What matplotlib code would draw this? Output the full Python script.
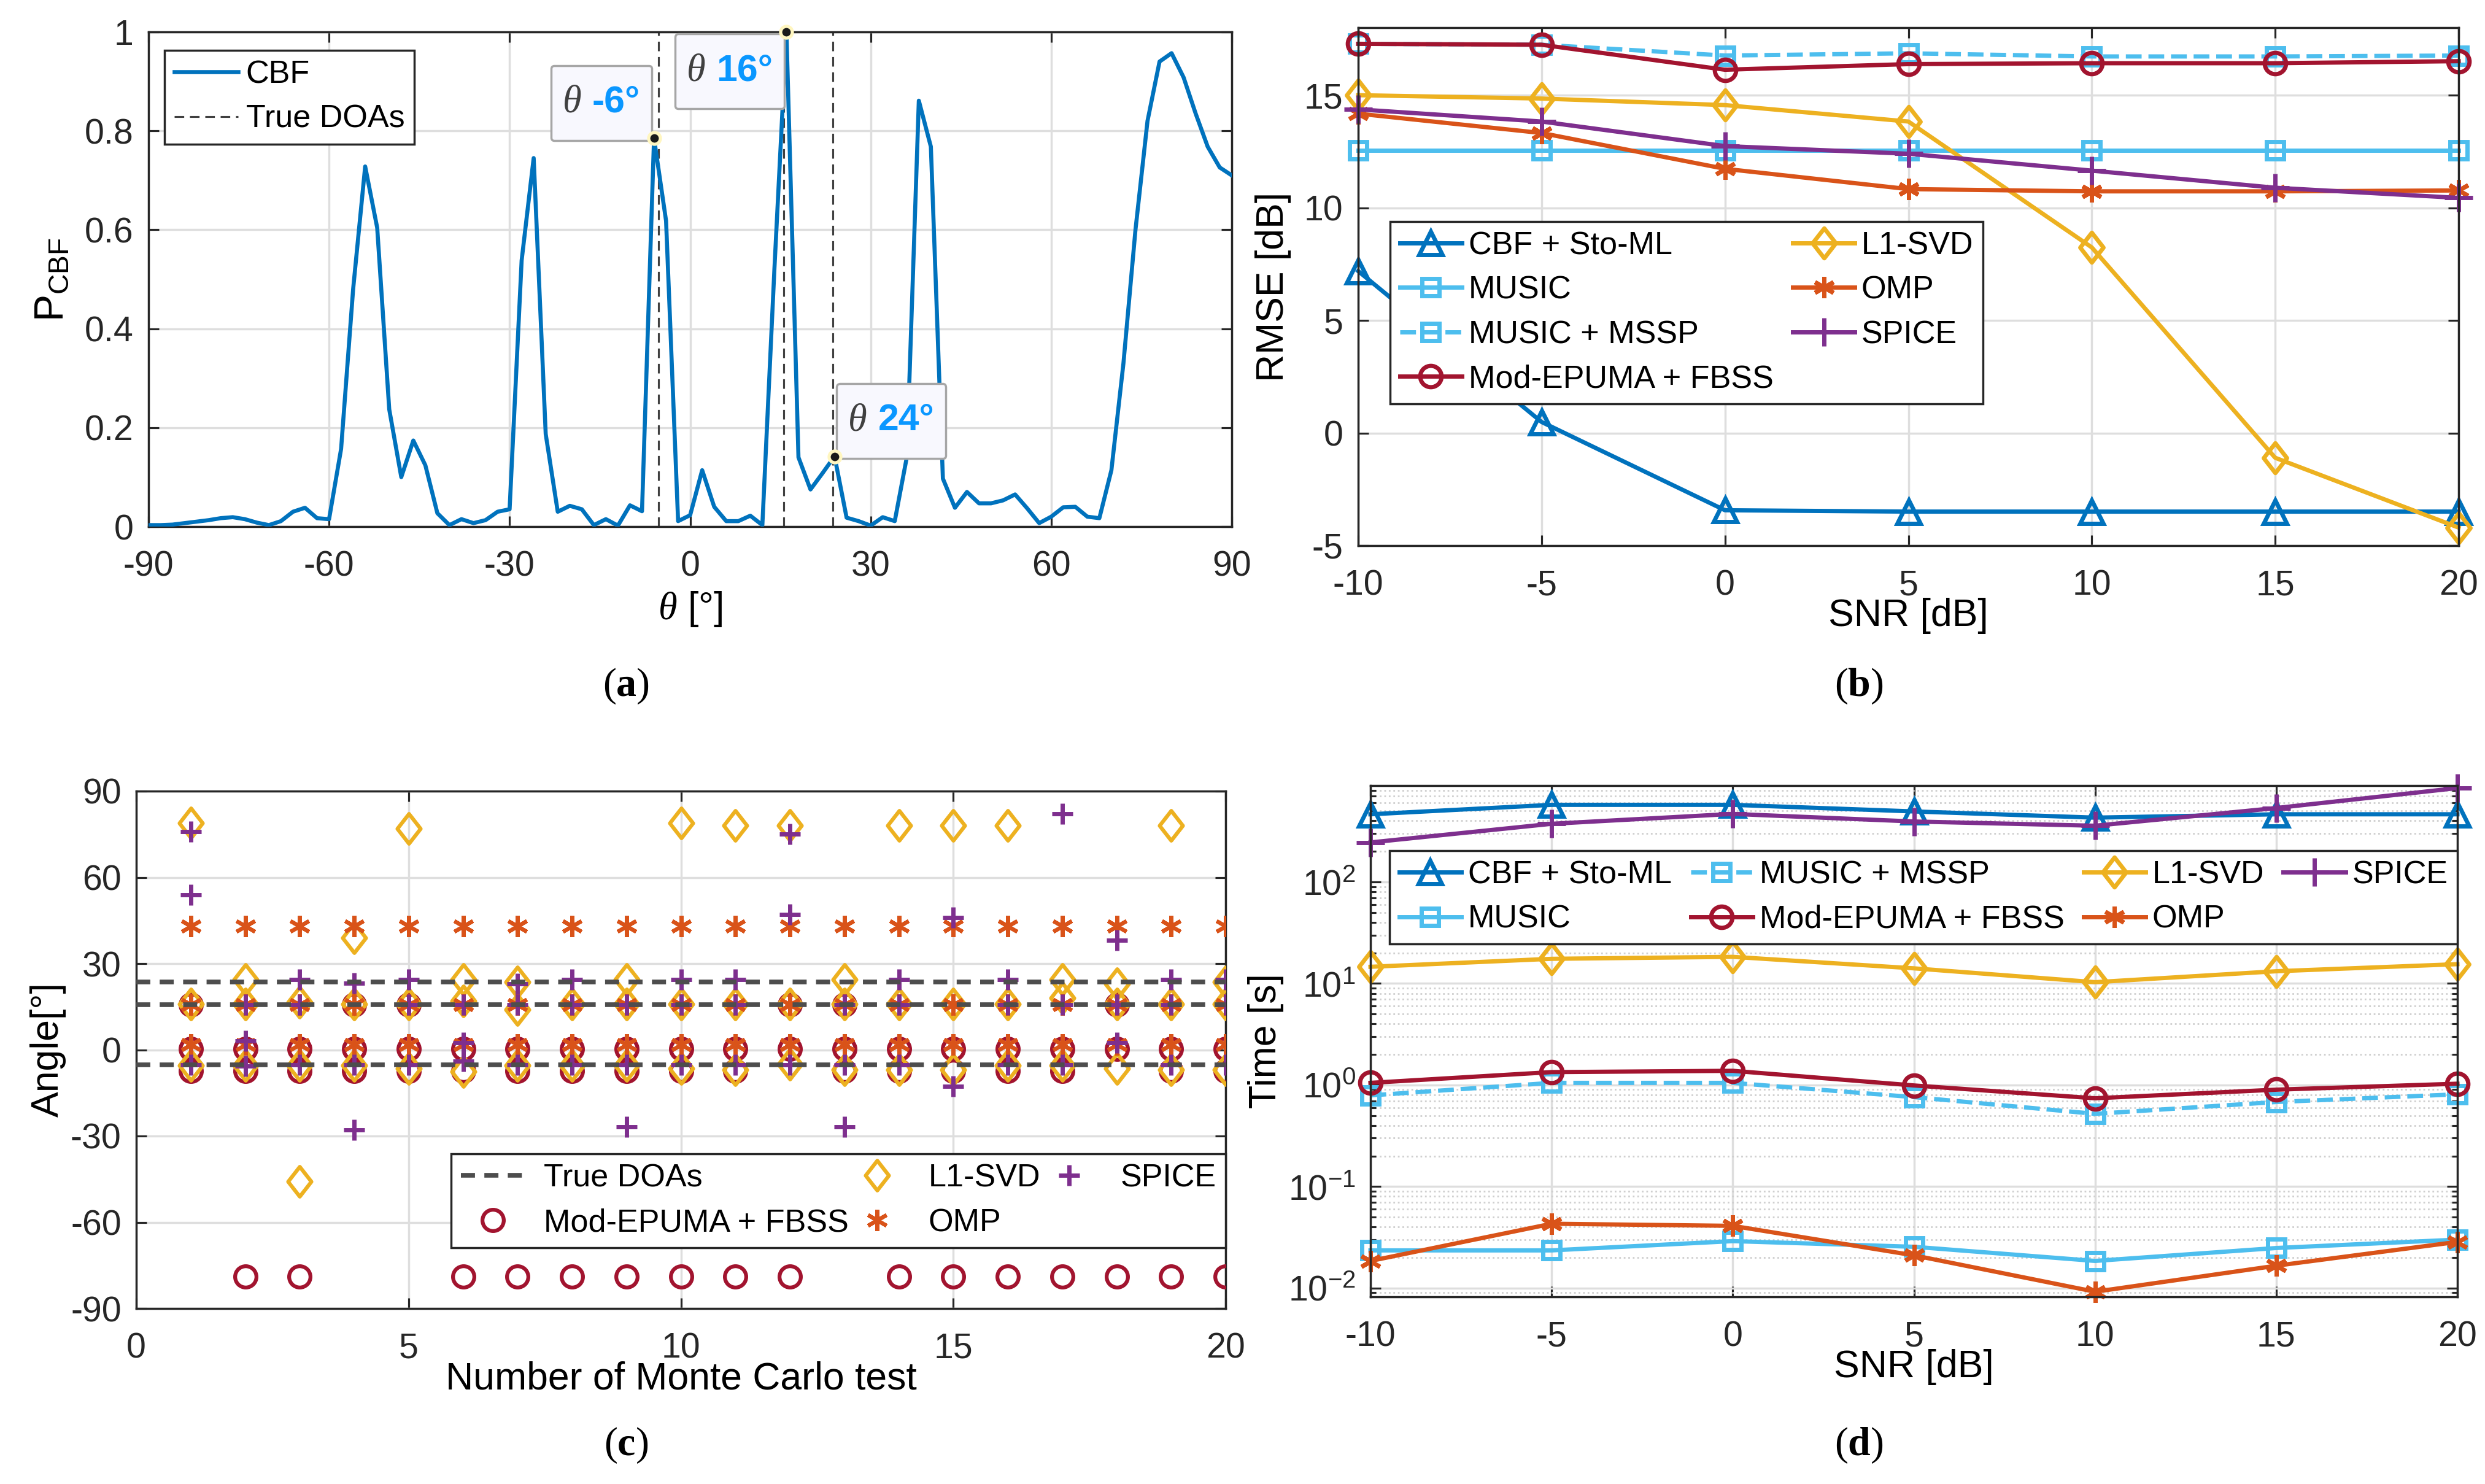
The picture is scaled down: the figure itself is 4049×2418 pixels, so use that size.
import numpy as np
import matplotlib
matplotlib.use('Agg')
import matplotlib.pyplot as plt
from matplotlib.path import Path
from matplotlib.offsetbox import TextArea, HPacker, AnnotationBbox, DrawingArea
from matplotlib.ticker import NullLocator, LogLocator, FixedLocator

plt.rcParams['font.family'] = ['Liberation Sans', 'DejaVu Sans']
plt.rcParams['mathtext.fontset'] = 'custom'
plt.rcParams['mathtext.rm'] = 'Liberation Sans'
plt.rcParams['mathtext.it'] = 'Liberation Serif:italic'
plt.rcParams['mathtext.bf'] = 'Liberation Serif:bold'
plt.rcParams['axes.unicode_minus'] = False

# ---- data -------------------------------------------------------------
# (a) CBF spectrum, -90:2:90 deg
theta = np.arange(-90, 91, 2)
p_cbf = [0.003, 0.003, 0.004, 0.007, 0.010, 0.013, 0.017, 0.019, 0.015, 0.008,
         0.003, 0.011, 0.030, 0.038, 0.017, 0.015, 0.157, 0.48, 0.728, 0.604,
         0.237, 0.100, 0.174, 0.124, 0.027, 0.003, 0.015, 0.007, 0.013, 0.030,
         0.035, 0.538, 0.745, 0.187, 0.030, 0.042, 0.035, 0.003, 0.015, 0.002,
         0.043, 0.031, 0.785, 0.618, 0.011, 0.023, 0.114, 0.040, 0.011, 0.011,
         0.022, 0.003, 0.52, 1.0, 0.140, 0.075, 0.108, 0.142, 0.018, 0.011,
         0.002, 0.019, 0.011, 0.14, 0.861, 0.768, 0.097, 0.038, 0.070, 0.047,
         0.047, 0.053, 0.065, 0.037, 0.007, 0.020, 0.039, 0.040, 0.020, 0.017,
         0.114, 0.33, 0.60, 0.82, 0.94, 0.957, 0.908, 0.835, 0.768, 0.726, 0.71]
true_doas = [-5.3, 15.6, 23.7]
tip_theta = [-6, 16, 24]
tip_p = [0.785, 1.0, 0.142]
tip_text = ['-6°', '16°', '24°']

# (b) RMSE vs SNR
snr = [-10, -5, 0, 5, 10, 15, 20]
rmse_cbf = [7.19, 0.49, -3.43, -3.49, -3.49, -3.49, -3.49]
rmse_music = [12.55, 12.55, 12.55, 12.55, 12.55, 12.55, 12.55]
rmse_mssp = [17.28, 17.24, 16.76, 16.86, 16.72, 16.72, 16.76]
rmse_epuma = [17.28, 17.24, 16.13, 16.38, 16.42, 16.42, 16.51]
rmse_l1 = [15.0, 14.85, 14.56, 13.83, 8.24, -1.1, -4.2]
rmse_omp = [14.18, 13.32, 11.73, 10.83, 10.73, 10.73, 10.77]
rmse_spice = [14.37, 13.83, 12.74, 12.4, 11.65, 10.89, 10.44]

# (c) estimates per Monte Carlo test (tests 1..20)
epuma_est = [[15.7, 0.3, -7.3], [0.3, -7.3, -78.8], [0.3, -7.3, -78.8], [15.7, 0.3, -7.3],
             [15.7, 0.3, -7.3], [0.3, -7.3, -78.8], [0.3, -7.3, -78.8], [0.3, -7.3, -78.8],
             [0.3, -7.3, -78.8], [0.3, -7.3, -78.8], [0.3, -7.3, -78.8], [15.7, 0.3, -78.8],
             [15.7, 0.3, -7.3], [0.3, -7.3, -78.8], [0.3, -7.3, -78.8], [0.3, -7.3, -78.8],
             [0.3, -7.3, -78.8], [15.7, 0.3, -78.8], [0.3, -7.3, -78.8], [0.3, -7.3, -78.8]]
l1_est = [[79, 16, -5.5], [24.5, 16, -5.5], [16.5, -5.5, -45.7], [39, 16, -5.5],
          [77, 16, -6.5], [24.5, 17, -7.5], [23.5, 14, -5.5], [16, -5.5],
          [24.5, 16, -5.5], [79, 16, -6.5], [78, 16, -7], [78, 16, -5],
          [24.5, 16, -7], [78, 16, -7], [78, 16, -7], [78, 16, -5.5],
          [24.5, 18, -5.5], [23, 16, -6.5], [78, 16, -7], [23.5, 16, -7]]
omp_est = [[43.1, 15.8, 1.9], [43.1, 15.8, 1.9], [43.1, 15.8, 1.9], [43.1, 15.8, 1.9],
           [43.1, 15.8, 1.9], [43.1, 15.8, 1.9], [43.1, 15.8, 1.9], [43.1, 15.8, 1.9],
           [43.1, 15.8, 1.9], [43.1, 15.8, 1.9], [43.1, 15.8, 1.9], [43.1, 15.8, 1.9],
           [43.1, 15.8, 1.9], [43.1, 15.8, 1.9], [43.1, 15.8, 1.9], [43.1, 15.8, 1.9],
           [43.1, 15.8, 1.9], [43.1, 15.8, 1.9], [43.1, 15.8, 1.9], [43.1, 15.8, 1.9]]
spice_est = [[76, 54, -5.2], [15.7, 3, -5.7], [24.4, 15.7, -5.2], [23.2, -5.2, -27.8],
             [24.4, 15.7, -5.2], [15.7, 2.5, -4], [23, 15.7, -5.2], [24.4, 15.7, -5.2],
             [15.7, -5.2, -26.8], [24.4, 15.7, -5.2], [24.4, 15.7, -5.2], [75, 47, -5.2],
             [15.7, -5.2, -26.8], [24.4, 15.7, -5.2], [46, -12.8], [24.4, 15.7, -5.2],
             [82, 15.7, -5.2], [38.2, 15.7, 2.5], [24.4, 15.7, -5.2], [24.4, 15.7, -5.2]]

# (d) run time vs SNR
t_cbf = [464, 575, 575, 495, 430, 464, 464]
t_music = [0.0235, 0.0235, 0.029, 0.0255, 0.0185, 0.0248, 0.030]
t_mssp = [0.79, 1.05, 1.05, 0.76, 0.52, 0.68, 0.81]
t_epuma = [1.05, 1.34, 1.38, 0.99, 0.74, 0.90, 1.03]
t_l1 = [14.6, 17.5, 18.3, 14.1, 10.3, 13.2, 15.5]
t_omp = [0.0185, 0.043, 0.041, 0.021, 0.0092, 0.0166, 0.0285]
t_spice = [245, 374, 468, 394, 358, 535, 841]

# ---- style -----------------------------------------------------------
C_BLUE = '#0072BD'
C_CYAN = '#4DBEEE'
C_RED = '#A2142F'
C_YEL = '#EDB120'
C_ORG = '#D95319'
C_PUR = '#7E2F8E'
DIAMOND = Path([(0, 1), (0.78, 0), (0, -1), (-0.78, 0), (0, 0)],
               [Path.MOVETO, Path.LINETO, Path.LINETO, Path.LINETO, Path.CLOSEPOLY])
ASTER = (6, 2, 0)
TICK_FS = 16.5
LABEL_FS = 18
LEG_FS = 15
LEG_KW = dict(fontsize=LEG_FS, fancybox=False, framealpha=1, borderpad=0.3,
              labelspacing=0.45, borderaxespad=0)

W, H = 4049, 2418
fig = plt.figure(figsize=(W / 250, H / 250), dpi=250)


def axes_px(l, t, r, b):
    return fig.add_axes([l / W, 1 - b / H, (r - l) / W, (b - t) / H])


def matlab_style(ax):
    ax.tick_params(which='both', direction='in', top=True, right=True,
                   colors='#262626', labelsize=TICK_FS, length=5, width=0.9)
    ax.tick_params(which='minor', length=2.5)
    ax.tick_params(axis='x', pad=11)
    ax.tick_params(axis='y', pad=7)
    ax.grid(True, color='#dedede', linewidth=1.0)
    ax.set_axisbelow(True)
    for s in ax.spines.values():
        s.set_color('#262626')
        s.set_linewidth(1.0)


def legend_style(leg):
    leg.get_frame().set_edgecolor('#262626')
    leg.get_frame().set_linewidth(1.0)


def flatten(est):
    xs, ys = [], []
    for i, row in enumerate(est, start=1):
        for v in row:
            xs.append(i)
            ys.append(v)
    return xs, ys


# ---- (a) ---------------------------------------------------------------
ax = axes_px(242, 52, 2007, 858)
matlab_style(ax)
ax.plot(theta, p_cbf, color=C_BLUE, lw=1.9, label='CBF', zorder=3)
ax.vlines(true_doas, 0, 1, colors='#404040', linestyles=(0, (5, 3)), lw=0.9,
          label='True DOAs', zorder=2)
ax.plot(tip_theta, tip_p, 'o', ms=5.5, mfc='#1a1a1a', mec='#fff6c0', mew=1.5,
        zorder=8, clip_on=False)
tip_align = [(1, 0), (1, 1), (0, 0)]
tip_offset = [(-1, -1), (-1, -1), (1, -1)]
for x, y, s, al, off in zip(tip_theta, tip_p, tip_text, tip_align, tip_offset):
    th = TextArea('θ', textprops=dict(family='Liberation Serif', style='italic',
                                      size=18, color='#404040'))
    val = TextArea(s, textprops=dict(size=17.5, weight='bold', color='#0a97ff'))
    inner = HPacker(children=[th, val], align='baseline', pad=0, sep=5)
    strut = DrawingArea(0, 24)
    box = HPacker(children=[strut, inner], align='center', pad=5.5, sep=0)
    ab = AnnotationBbox(box, (x, y), xybox=off, xycoords='data',
                        boxcoords='offset points', box_alignment=al, pad=0,
                        fontsize=10,
                        bboxprops=dict(boxstyle='round,pad=0,rounding_size=0.15',
                                       fc='#f8f8fe', ec='#a6a6a6', lw=1.0))
    ab.set_zorder(7)
    ax.add_artist(ab)
ax.set_xlim(-90, 90)
ax.set_ylim(0, 1)
ax.set_xticks(np.arange(-90, 91, 30))
ax.set_yticks([0, 0.2, 0.4, 0.6, 0.8, 1])
ax.set_yticklabels(['0', '0.2', '0.4', '0.6', '0.8', '1'])
ax.set_xlabel(r'$\theta$ [°]', fontsize=LABEL_FS, labelpad=3)
ax.set_ylabel(r'P$_{\mathrm{CBF}}$', fontsize=LABEL_FS + 1, labelpad=6)
leg = ax.legend(loc='upper left', bbox_to_anchor=(0.0147, 0.963),
                handlelength=2.0, handletextpad=0.25, **LEG_KW)
legend_style(leg)

# ---- (b) ---------------------------------------------------------------
ax = axes_px(2213, 45, 4006, 889)
matlab_style(ax)
lw = 2.0
kw = dict(lw=lw, mew=2.0, mfc='none', clip_on=False)
ax.plot(snr, rmse_cbf, '-', marker='^', ms=11, color=C_BLUE, label='CBF + Sto-ML', **kw)
ax.plot(snr, rmse_music, '-', marker='s', ms=8, color=C_CYAN, label='MUSIC', **kw)
ax.plot(snr, rmse_mssp, '--', marker='s', ms=8, color=C_CYAN, label='MUSIC + MSSP', **kw)
ax.plot(snr, rmse_epuma, '-', marker='o', ms=10, color=C_RED, label='Mod-EPUMA + FBSS', **kw)
ax.plot(snr, rmse_l1, '-', marker=DIAMOND, ms=14, color=C_YEL, label='L1-SVD', **kw)
ax.plot(snr, rmse_omp, '-', marker=ASTER, ms=10, color=C_ORG, label='OMP', **kw)
ax.plot(snr, rmse_spice, '-', marker='+', ms=13, color=C_PUR, label='SPICE', **kw)
ax.set_xlim(-10, 20)
ax.set_ylim(-5, 18)
ax.set_xticks(snr)
ax.set_yticks([-5, 0, 5, 10, 15])
ax.set_xlabel('SNR [dB]', fontsize=LABEL_FS, labelpad=-2)
ax.set_ylabel('RMSE [dB]', fontsize=LABEL_FS, labelpad=6)
leg = ax.legend(loc='upper left', bbox_to_anchor=(0.029, 0.626), ncol=2,
                handlelength=1.95, handletextpad=0.2, columnspacing=0.6, **LEG_KW)
legend_style(leg)

# ---- (c) ---------------------------------------------------------------
ax = axes_px(222, 1289, 1997, 2132)
matlab_style(ax)
ax.hlines(true_doas, 0, 20, colors='#4d4d4d', linestyles=(0, (3, 2)), lw=2.2,
          label='True DOAs', zorder=4)
x, y = flatten(epuma_est)
ax.plot(x, y, 'o', ms=10, mfc='none', mec=C_RED, mew=1.8, ls='none',
        label='Mod-EPUMA + FBSS', zorder=3)
x, y = flatten(l1_est)
ax.plot(x, y, marker=DIAMOND, ms=14, mfc='none', mec=C_YEL, mew=1.8, ls='none',
        label='L1-SVD', zorder=3)
x, y = flatten(omp_est)
ax.plot(x, y, marker=ASTER, ms=10, mec=C_ORG, mew=1.8, ls='none',
        label='OMP', zorder=3)
x, y = flatten(spice_est)
ax.plot(x, y, marker='+', ms=10, mec=C_PUR, mew=2.0, ls='none',
        label='SPICE', zorder=3)
ax.set_xlim(0, 20)
ax.set_ylim(-90, 90)
ax.set_xticks([0, 5, 10, 15, 20])
ax.set_yticks(np.arange(-90, 91, 30))
ax.set_xlabel('Number of Monte Carlo test', fontsize=LABEL_FS, labelpad=-2)
ax.set_ylabel('Angle[°]', fontsize=LABEL_FS, labelpad=2)
leg = ax.legend(loc='upper left', bbox_to_anchor=(0.289, 0.121, 0.711, 0.178),
                mode='expand', ncol=3, handlelength=2.0, handletextpad=0.6, **LEG_KW)
legend_style(leg)

# ---- (d) ---------------------------------------------------------------
ax = axes_px(2233, 1280, 4004, 2113)
matlab_style(ax)
ax.set_yscale('log')
ax.plot(snr, t_cbf, '-', marker='^', ms=11, color=C_BLUE, label='CBF + Sto-ML', **kw)
ax.plot(snr, t_music, '-', marker='s', ms=8, color=C_CYAN, label='MUSIC', **kw)
ax.plot(snr, t_mssp, '--', marker='s', ms=8, color=C_CYAN, label='MUSIC + MSSP', **kw)
ax.plot(snr, t_epuma, '-', marker='o', ms=10, color=C_RED, label='Mod-EPUMA + FBSS', **kw)
ax.plot(snr, t_l1, '-', marker=DIAMOND, ms=14, color=C_YEL, label='L1-SVD', **kw)
ax.plot(snr, t_omp, '-', marker=ASTER, ms=10, color=C_ORG, label='OMP', **kw)
ax.plot(snr, t_spice, '-', marker='+', ms=13, color=C_PUR, label='SPICE', **kw)
ax.set_xlim(-10, 20)
ax.set_ylim(0.0082, 890)
ax.set_xticks(snr)
ax.xaxis.set_minor_locator(NullLocator())
ax.yaxis.set_major_locator(FixedLocator([1e-2, 1e-1, 1e0, 1e1, 1e2]))
ax.yaxis.set_minor_locator(LogLocator(base=10, subs=np.arange(2, 10), numticks=20))
ax.grid(True, which='minor', axis='y', color='#cfcfcf', linestyle=':', linewidth=0.8)
ax.set_xlabel('SNR [dB]', fontsize=LABEL_FS, labelpad=-2)
ax.set_ylabel('Time [s]', fontsize=LABEL_FS, labelpad=2)
leg = ax.legend(loc='upper left', bbox_to_anchor=(0.0175, 0.693, 0.9825, 0.18),
                mode='expand', ncol=4, handlelength=1.95, handletextpad=0.2,
                columnspacing=0.3, **LEG_KW)
legend_style(leg)

# ---- captions ------------------------------------------------------------
for lab, (cx, cy) in zip('abcd', [(1020, 1118), (3029, 1118), (1020, 2355), (3029, 2355)]):
    fig.text(cx / W, 1 - cy / H, r'($\mathbf{%s}$)' % lab, family='Liberation Serif',
             fontsize=19, ha='center', va='center')

fig.savefig('out.png', dpi=250)
